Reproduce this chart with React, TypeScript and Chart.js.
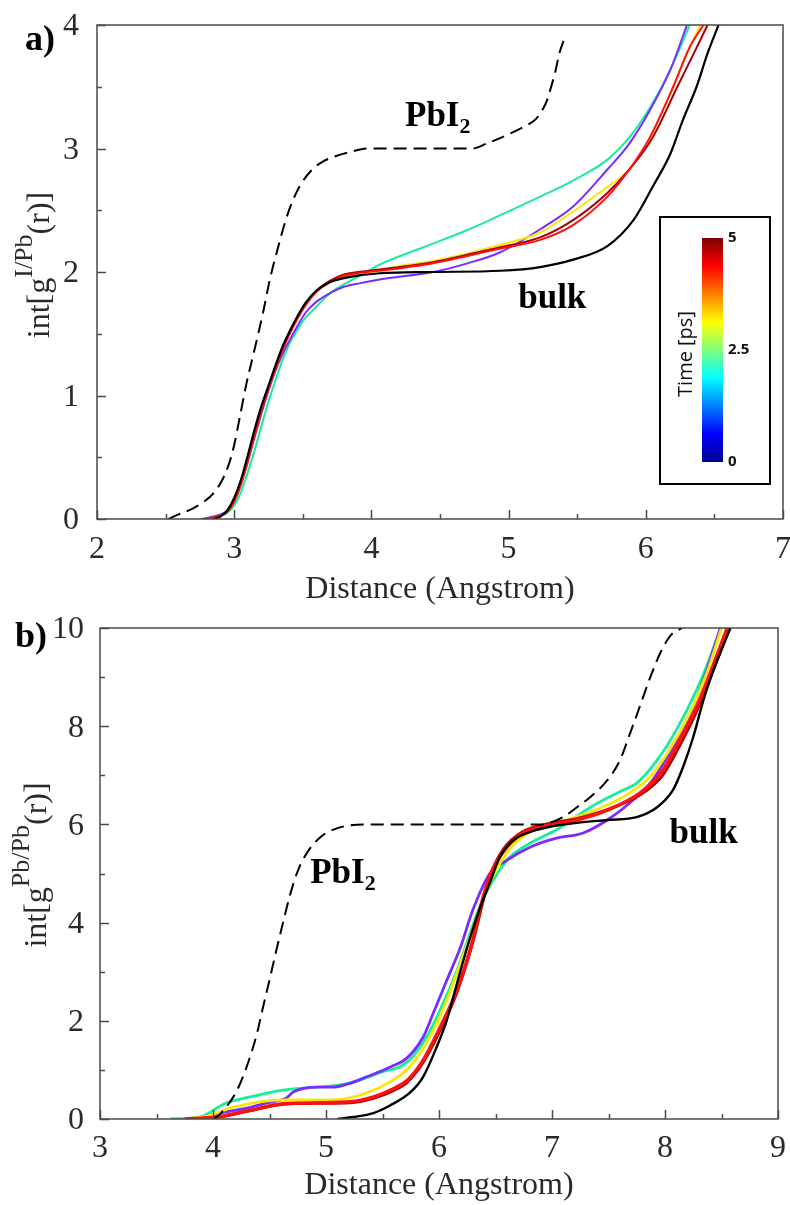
import React, { useEffect, useRef } from 'react';
import { Chart, registerables } from 'chart.js';

Chart.register(...registerables);

// ---------------- Panel a) : int[g I/Pb (r)] ----------------
const aXTicks = [2, 3, 4, 5, 6, 7];
const aYTicks = [0, 1, 2, 3, 4];

const aPbI2X = [2.52, 2.6, 2.69, 2.78, 2.85, 2.91, 2.96, 3.0, 3.04, 3.09, 3.15, 3.21, 3.26, 3.32, 3.37, 3.42, 3.48, 3.56, 3.64, 3.72, 3.84, 3.97, 4.3, 4.74, 4.84, 4.99, 5.1, 5.2, 5.25, 5.28, 5.31, 5.34, 5.37, 5.41];
const aPbI2Y = [0.0, 0.04, 0.08, 0.14, 0.21, 0.31, 0.44, 0.6, 0.82, 1.1, 1.38, 1.67, 1.94, 2.2, 2.4, 2.56, 2.7, 2.82, 2.89, 2.93, 2.97, 3.0, 3.0, 3.0, 3.04, 3.11, 3.17, 3.24, 3.32, 3.39, 3.5, 3.62, 3.77, 3.9];

const aBulkX = [2.85, 2.9, 2.95, 3.0, 3.05, 3.1, 3.15, 3.2, 3.25, 3.3, 3.35, 3.4, 3.46, 3.52, 3.6, 3.7, 3.8, 3.9, 4.06, 4.45, 4.94, 5.23, 5.47, 5.72, 5.91, 6.05, 6.18, 6.27, 6.37, 6.45, 6.53];
const aBulkY = [0.0, 0.02, 0.07, 0.17, 0.32, 0.52, 0.73, 0.92, 1.08, 1.24, 1.39, 1.51, 1.64, 1.75, 1.85, 1.92, 1.95, 1.97, 1.99, 2.0, 2.01, 2.04, 2.1, 2.21, 2.42, 2.69, 2.96, 3.23, 3.5, 3.77, 4.0];

const aRedX = [2.8, 2.88, 2.95, 3.0, 3.05, 3.1, 3.15, 3.2, 3.25, 3.3, 3.35, 3.4, 3.46, 3.52, 3.6, 3.7, 3.8, 3.9, 4.06, 4.21, 4.45, 4.7, 4.94, 5.23, 5.47, 5.72, 5.88, 6.03, 6.2, 6.32, 6.42];
const aRedY = [0.0, 0.02, 0.06, 0.14, 0.28, 0.47, 0.68, 0.88, 1.05, 1.21, 1.36, 1.49, 1.62, 1.73, 1.84, 1.92, 1.97, 1.99, 2.01, 2.03, 2.07, 2.13, 2.19, 2.26, 2.38, 2.61, 2.83, 3.09, 3.5, 3.82, 4.0];

const aDarkRedX = [2.8, 2.88, 2.95, 3.0, 3.05, 3.1, 3.15, 3.2, 3.25, 3.3, 3.35, 3.4, 3.46, 3.52, 3.6, 3.7, 3.8, 3.9, 4.06, 4.21, 4.45, 4.7, 4.94, 5.23, 5.47, 5.72, 5.88, 6.05, 6.23, 6.35, 6.45];
const aDarkRedY = [0.0, 0.02, 0.06, 0.15, 0.29, 0.48, 0.69, 0.89, 1.06, 1.22, 1.37, 1.5, 1.63, 1.74, 1.85, 1.93, 1.98, 2.0, 2.02, 2.04, 2.08, 2.14, 2.2, 2.28, 2.42, 2.64, 2.83, 3.09, 3.5, 3.77, 4.0];

const aYellowX = [2.8, 2.88, 2.95, 3.0, 3.05, 3.1, 3.15, 3.2, 3.25, 3.3, 3.35, 3.4, 3.46, 3.52, 3.6, 3.7, 3.8, 3.9, 4.06, 4.21, 4.45, 4.7, 4.94, 5.23, 5.47, 5.72, 5.88, 6.03, 6.2, 6.3, 6.4];
const aYellowY = [0.0, 0.02, 0.06, 0.15, 0.3, 0.49, 0.7, 0.9, 1.07, 1.23, 1.38, 1.5, 1.63, 1.74, 1.84, 1.92, 1.96, 1.99, 2.01, 2.05, 2.09, 2.15, 2.22, 2.32, 2.49, 2.69, 2.83, 3.09, 3.5, 3.77, 4.0];

const aGreenX = [2.8, 2.88, 2.95, 3.0, 3.05, 3.1, 3.15, 3.2, 3.25, 3.3, 3.35, 3.4, 3.46, 3.52, 3.6, 3.7, 3.8, 3.9, 4.06, 4.38, 4.7, 4.94, 5.23, 5.47, 5.72, 5.88, 6.03, 6.18, 6.32];
const aGreenY = [0.0, 0.02, 0.05, 0.11, 0.22, 0.38, 0.56, 0.76, 0.95, 1.12, 1.28, 1.41, 1.53, 1.63, 1.72, 1.83, 1.9, 1.96, 2.06, 2.2, 2.34, 2.46, 2.61, 2.74, 2.91, 3.09, 3.33, 3.64, 4.0];

const aVioletX = [2.76, 2.85, 2.95, 3.0, 3.05, 3.1, 3.15, 3.2, 3.25, 3.3, 3.35, 3.4, 3.46, 3.52, 3.6, 3.7, 3.8, 3.92, 4.06, 4.45, 4.7, 4.94, 5.25, 5.47, 5.72, 5.88, 6.03, 6.18, 6.3];
const aVioletY = [0.0, 0.02, 0.07, 0.15, 0.29, 0.47, 0.67, 0.86, 1.04, 1.2, 1.33, 1.44, 1.56, 1.67, 1.76, 1.83, 1.88, 1.91, 1.94, 2.0, 2.07, 2.16, 2.36, 2.53, 2.83, 3.04, 3.31, 3.64, 4.0];

// ---------------- Panel b) : int[g Pb/Pb (r)] ----------------
const bXTicks = [3, 4, 5, 6, 7, 8, 9];
const bYTicks = [0, 2, 4, 6, 8, 10];

const bPbI2X = [4.0, 4.05, 4.1, 4.16, 4.22, 4.28, 4.34, 4.39, 4.44, 4.5, 4.56, 4.62, 4.68, 4.75, 4.84, 4.95, 5.06, 5.21, 5.4, 6.0, 6.5, 6.9, 7.0, 7.1, 7.22, 7.34, 7.49, 7.6, 7.69, 7.78, 7.87, 7.96, 8.05, 8.15];
const bPbI2Y = [0.0, 0.07, 0.2, 0.38, 0.62, 0.95, 1.35, 1.75, 2.25, 2.83, 3.43, 4.0, 4.55, 5.05, 5.45, 5.74, 5.89, 5.98, 6.0, 6.0, 6.0, 6.0, 6.05, 6.15, 6.35, 6.56, 6.9, 7.3, 7.85, 8.42, 9.0, 9.5, 9.85, 10.0];

const bBulkX = [5.1, 5.24, 5.42, 5.57, 5.74, 5.86, 5.98, 6.07, 6.16, 6.25, 6.34, 6.45, 6.54, 6.66, 6.81, 6.98, 7.22, 7.49, 7.75, 7.93, 8.07, 8.16, 8.25, 8.34, 8.42, 8.51, 8.58];
const bBulkY = [0.0, 0.04, 0.12, 0.28, 0.53, 0.86, 1.47, 2.02, 2.77, 3.5, 4.15, 4.81, 5.34, 5.68, 5.85, 5.95, 6.03, 6.09, 6.15, 6.35, 6.7, 7.17, 7.78, 8.53, 9.08, 9.61, 10.0];

const bRedX = [3.75, 4.03, 4.33, 4.62, 4.92, 5.21, 5.42, 5.6, 5.72, 5.86, 6.01, 6.16, 6.3, 6.36, 6.45, 6.57, 6.74, 6.98, 7.22, 7.49, 7.78, 7.98, 8.13, 8.28, 8.42, 8.55];
const bRedY = [0.0, 0.04, 0.18, 0.31, 0.33, 0.35, 0.45, 0.62, 0.79, 1.2, 1.87, 2.63, 3.65, 4.25, 4.95, 5.45, 5.82, 5.99, 6.09, 6.29, 6.64, 7.1, 7.72, 8.39, 9.2, 10.0];

const bDarkRedX = [3.8, 4.05, 4.33, 4.62, 4.92, 5.21, 5.42, 5.6, 5.72, 5.86, 6.01, 6.16, 6.3, 6.45, 6.57, 6.74, 6.98, 7.22, 7.49, 7.78, 7.98, 8.13, 8.28, 8.42, 8.57];
const bDarkRedY = [0.0, 0.04, 0.17, 0.3, 0.32, 0.33, 0.42, 0.58, 0.75, 1.15, 1.8, 2.58, 3.6, 4.95, 5.5, 5.85, 6.02, 6.12, 6.3, 6.6, 7.0, 7.6, 8.3, 9.1, 10.0];

const bYellowX = [3.75, 3.95, 4.18, 4.62, 5.06, 5.36, 5.57, 5.74, 5.92, 6.07, 6.21, 6.36, 6.45, 6.6, 6.78, 7.04, 7.34, 7.63, 7.87, 8.04, 8.22, 8.37, 8.5];
const bYellowY = [0.0, 0.06, 0.24, 0.39, 0.39, 0.53, 0.76, 1.06, 1.67, 2.42, 3.3, 4.26, 4.81, 5.42, 5.82, 6.03, 6.25, 6.56, 6.97, 7.52, 8.27, 9.08, 10.0];

const bGreenX = [3.62, 3.88, 4.12, 4.33, 4.62, 4.92, 5.21, 5.5, 5.65, 5.74, 5.89, 6.01, 6.16, 6.3, 6.36, 6.42, 6.48, 6.63, 6.81, 7.04, 7.34, 7.63, 7.75, 7.93, 8.1, 8.28, 8.4, 8.49];
const bGreenY = [0.0, 0.04, 0.33, 0.45, 0.59, 0.65, 0.73, 0.96, 1.06, 1.2, 1.67, 2.22, 3.03, 3.95, 4.32, 4.62, 4.87, 5.34, 5.62, 5.89, 6.35, 6.7, 6.84, 7.31, 7.92, 8.74, 9.41, 10.0];

const bVioletX = [3.86, 4.06, 4.3, 4.48, 4.65, 4.71, 4.92, 5.06, 5.2, 5.36, 5.57, 5.72, 5.86, 5.95, 6.07, 6.19, 6.3, 6.45, 6.6, 6.81, 7.04, 7.27, 7.49, 7.69, 7.87, 8.02, 8.16, 8.31, 8.4, 8.49];
const bVioletY = [0.0, 0.12, 0.22, 0.33, 0.43, 0.55, 0.65, 0.65, 0.72, 0.86, 1.06, 1.25, 1.67, 2.16, 2.83, 3.5, 4.26, 5.0, 5.27, 5.54, 5.72, 5.82, 6.09, 6.44, 6.84, 7.37, 7.92, 8.74, 9.35, 10.0];

// colour bar (jet)
const colorbarStops = [
  [0, '#00008F'],
  [0.125, '#0000FF'],
  [0.375, '#00FFFF'],
  [0.625, '#FFFF00'],
  [0.875, '#FF0000'],
  [1, '#800000'],
] as [number, string][];
const colorbarLabels = ['0', '2.5', '5'];

const C_VIOLET = '#7A2BFF';
const C_GREEN = '#16EE9A';
const C_YELLOW = '#F8E800';
const C_RED = '#FF1010';
const C_DARKRED = '#A80000';
const C_BLACK = '#000000';

type Series = { x: number[]; y: number[]; color: string; width: number; dash?: number[] };

type Note = { text: string; sub?: string; x: number; y: number };

type Spec = {
  id: string;
  top: number;
  height: number;
  plotLeft: number;
  plotRight: number;
  plotTop: number;
  plotBottom: number;
  xTicks: number[];
  yTicks: number[];
  xMinor: number;
  yMinor: number;
  yTickPad: number;
  xTickPad: number;
  series: Series[];
  panelLabel: string;
  panelLabelX: number;
  panelLabelY: number;
  ySup: string;
  yTitleCenter: number;
  yTitleBase: number;
  yTitleSupBase: number;
  xTitleBase: number;
  notes: Note[];
  colorbar: boolean;
};

const SERIF = '"Liberation Serif", "Times New Roman", serif';
const SANS = '"Open Sans", "Noto Sans", sans-serif';

const specA: Spec = {
  id: 'a',
  top: 0,
  height: 605,
  plotLeft: 97,
  plotRight: 783,
  plotTop: 25,
  plotBottom: 519,
  xTicks: aXTicks,
  yTicks: aYTicks,
  xMinor: 0.5,
  yMinor: 0.5,
  yTickPad: 10,
  xTickPad: 3,
  series: [
    { x: aBulkX, y: aBulkY, color: C_BLACK, width: 2.2 },
    { x: aPbI2X, y: aPbI2Y, color: C_BLACK, width: 2, dash: [13, 7] },
    { x: aRedX, y: aRedY, color: C_RED, width: 2 },
    { x: aDarkRedX, y: aDarkRedY, color: C_DARKRED, width: 2 },
    { x: aYellowX, y: aYellowY, color: C_YELLOW, width: 2 },
    { x: aVioletX, y: aVioletY, color: C_VIOLET, width: 2 },
    { x: aGreenX, y: aGreenY, color: C_GREEN, width: 2 },
  ],
  panelLabel: 'a)',
  panelLabelX: 25,
  panelLabelY: 50,
  ySup: 'I/Pb',
  yTitleCenter: 265,
  yTitleBase: 49,
  yTitleSupBase: 32,
  xTitleBase: 598,
  notes: [
    { text: 'PbI', sub: '2', x: 4.245, y: 3.18 },
    { text: 'bulk', x: 5.07, y: 1.71 },
  ],
  colorbar: true,
};

const specB: Spec = {
  id: 'b',
  top: 605,
  height: 600,
  plotLeft: 100,
  plotRight: 778,
  plotTop: 23,
  plotBottom: 514,
  xTicks: bXTicks,
  yTicks: bYTicks,
  xMinor: 0.5,
  yMinor: 1,
  yTickPad: 8,
  xTickPad: 2,
  series: [
    { x: bBulkX, y: bBulkY, color: C_BLACK, width: 2.4 },
    { x: bPbI2X, y: bPbI2Y, color: C_BLACK, width: 2, dash: [13, 7] },
    { x: bRedX, y: bRedY, color: C_RED, width: 3.5 },
    { x: bDarkRedX, y: bDarkRedY, color: C_DARKRED, width: 2.8 },
    { x: bYellowX, y: bYellowY, color: C_YELLOW, width: 2.8 },
    { x: bVioletX, y: bVioletY, color: C_VIOLET, width: 2.8 },
    { x: bGreenX, y: bGreenY, color: C_GREEN, width: 2.8 },
  ],
  panelLabel: 'b)',
  panelLabelX: 15,
  panelLabelY: 42,
  ySup: 'Pb/Pb',
  yTitleCenter: 260,
  yTitleBase: 46,
  yTitleSupBase: 29,
  xTitleBase: 589,
  notes: [
    { text: 'PbI', sub: '2', x: 4.86, y: 4.81 },
    { text: 'bulk', x: 8.04, y: 5.62 },
  ],
  colorbar: false,
};

function makeDecor(spec: Spec) {
  return {
    id: 'decor_' + spec.id,
    afterDatasetsDraw(chart: any) {
      const ctx: CanvasRenderingContext2D = chart.ctx;
      const ca = chart.chartArea;
      const xs = chart.scales.x;
      const ys = chart.scales.y;
      ctx.save();

      // frame
      ctx.strokeStyle = '#4a4a4a';
      ctx.lineWidth = 1.5;
      ctx.setLineDash([]);
      ctx.strokeRect(ca.left, ca.top, ca.right - ca.left, ca.bottom - ca.top);

      // inward ticks (major + minor) on bottom and left
      const xMin = spec.xTicks[0];
      const xMax = spec.xTicks[spec.xTicks.length - 1];
      const xStep = spec.xTicks[1] - spec.xTicks[0];
      const nx = Math.round((xMax - xMin) / spec.xMinor);
      for (let i = 0; i <= nx; i++) {
        const v = xMin + i * spec.xMinor;
        const major = Math.abs((v - xMin) / xStep - Math.round((v - xMin) / xStep)) < 1e-6;
        const px = Math.round(xs.getPixelForValue(v)) + 0.5;
        ctx.beginPath();
        ctx.moveTo(px, ca.bottom);
        ctx.lineTo(px, ca.bottom - (major ? 9 : 5));
        ctx.stroke();
      }
      const yMin = spec.yTicks[0];
      const yMax = spec.yTicks[spec.yTicks.length - 1];
      const yStep = spec.yTicks[1] - spec.yTicks[0];
      const ny = Math.round((yMax - yMin) / spec.yMinor);
      for (let i = 0; i <= ny; i++) {
        const v = yMin + i * spec.yMinor;
        const major = Math.abs((v - yMin) / yStep - Math.round((v - yMin) / yStep)) < 1e-6;
        const py = Math.round(ys.getPixelForValue(v)) + 0.5;
        ctx.beginPath();
        ctx.moveTo(ca.left, py);
        ctx.lineTo(ca.left + (major ? 9 : 5), py);
        ctx.stroke();
      }

      // x-axis title
      ctx.fillStyle = '#2a2a2a';
      ctx.font = `32px ${SERIF}`;
      ctx.textAlign = 'center';
      ctx.textBaseline = 'alphabetic';
      ctx.fillText('Distance (Angstrom)', (ca.left + ca.right) / 2, spec.xTitleBase);

      // y-axis title with superscript
      const mainFont = `32px ${SERIF}`;
      const supFont = `26px ${SERIF}`;
      ctx.font = mainFont;
      const w1 = ctx.measureText('int[g').width;
      const w3 = ctx.measureText('(r)]').width;
      ctx.font = supFont;
      const w2 = ctx.measureText(spec.ySup).width;
      const total = w1 + w2 + w3;
      ctx.save();
      ctx.translate(spec.yTitleBase, spec.yTitleCenter);
      ctx.rotate(-Math.PI / 2);
      ctx.textAlign = 'left';
      let cx = -total / 2;
      ctx.font = mainFont;
      ctx.fillText('int[g', cx, 0);
      cx += w1;
      ctx.font = supFont;
      ctx.fillText(spec.ySup, cx, -(spec.yTitleBase - spec.yTitleSupBase));
      cx += w2;
      ctx.font = mainFont;
      ctx.fillText('(r)]', cx, 0);
      ctx.restore();

      // panel label
      ctx.fillStyle = '#000';
      ctx.font = `bold 36px ${SERIF}`;
      ctx.textAlign = 'left';
      ctx.fillText(spec.panelLabel, spec.panelLabelX, spec.panelLabelY);

      // inline notes
      for (const n of spec.notes) {
        const px = xs.getPixelForValue(n.x);
        const py = ys.getPixelForValue(n.y);
        ctx.font = `bold 35px ${SERIF}`;
        ctx.fillText(n.text, px, py);
        if (n.sub) {
          const w = ctx.measureText(n.text).width;
          ctx.font = `bold 22px ${SERIF}`;
          ctx.fillText(n.sub, px + w, py + 7);
        }
      }

      // colour bar legend
      if (spec.colorbar) {
        const bx = 660, by = 217, bw = 110, bh = 267;
        ctx.fillStyle = '#fff';
        ctx.fillRect(bx, by, bw, bh);
        ctx.strokeStyle = '#000';
        ctx.lineWidth = 2;
        ctx.strokeRect(bx, by, bw, bh);
        const gx = 702, gy = 238, gw = 21, gh = 224;
        const grad = ctx.createLinearGradient(0, gy + gh, 0, gy);
        for (const [p, c] of colorbarStops) grad.addColorStop(p, c);
        ctx.fillStyle = grad;
        ctx.fillRect(gx, gy, gw, gh);
        ctx.fillStyle = '#111';
        ctx.font = `bold 15px ${SANS}`;
        ctx.textAlign = 'left';
        ctx.textBaseline = 'middle';
        colorbarLabels.forEach((t, i) => {
          const yy = gy + gh - (i / (colorbarLabels.length - 1)) * gh;
          ctx.fillText(t, 728, yy);
        });
        ctx.save();
        ctx.translate(686, 354);
        ctx.rotate(-Math.PI / 2);
        ctx.font = `20px ${SANS}`;
        ctx.textAlign = 'center';
        ctx.textBaseline = 'middle';
        ctx.fillStyle = '#111';
        ctx.fillText('Time [ps]', 0, 0);
        ctx.restore();
      }

      ctx.restore();
    },
  };
}

function Panel({ spec }: { spec: Spec }) {
  const ref = useRef<HTMLCanvasElement | null>(null);
  useEffect(() => {
    if (!ref.current) return;
    const datasets = spec.series.map((s) => ({
      data: s.x.map((v, i) => ({ x: v, y: s.y[i] })),
      borderColor: s.color,
      borderWidth: s.width,
      borderDash: s.dash || [],
      pointRadius: 0,
      fill: false,
      cubicInterpolationMode: 'monotone' as const,
      borderCapStyle: 'butt' as const,
    }));
    const chart = new Chart(ref.current, {
      type: 'line',
      data: { datasets },
      plugins: [makeDecor(spec)],
      options: {
        animation: false,
        responsive: false,
        devicePixelRatio: 1,
        events: [],
        layout: {
          padding: { left: 0, right: 790 - spec.plotRight, top: spec.plotTop, bottom: 0 },
        },
        plugins: { legend: { display: false }, tooltip: { enabled: false } },
        scales: {
          x: {
            type: 'linear',
            min: spec.xTicks[0],
            max: spec.xTicks[spec.xTicks.length - 1],
            afterBuildTicks: (scale: any) => {
              scale.ticks = spec.xTicks.map((v) => ({ value: v }));
            },
            ticks: {
              font: { family: SERIF, size: 32 },
              color: '#2a2a2a',
              padding: spec.xTickPad,
              maxRotation: 0,
              autoSkip: false,
            },
            grid: { display: false },
            border: { display: false },
            afterFit: (scale: any) => {
              scale.height = spec.height - spec.plotBottom;
              scale.paddingLeft = 0;
              scale.paddingRight = 0;
            },
          },
          y: {
            type: 'linear',
            min: spec.yTicks[0],
            max: spec.yTicks[spec.yTicks.length - 1],
            afterBuildTicks: (scale: any) => {
              scale.ticks = spec.yTicks.map((v) => ({ value: v }));
            },
            ticks: {
              font: { family: SERIF, size: 32 },
              color: '#2a2a2a',
              padding: spec.yTickPad,
              labelOffset: 2,
              autoSkip: false,
            },
            grid: { display: false },
            border: { display: false },
            afterFit: (scale: any) => {
              scale.width = spec.plotLeft;
              scale.paddingTop = 0;
              scale.paddingBottom = 0;
            },
          },
        },
      } as any,
    });
    return () => chart.destroy();
  }, [spec]);
  return (
    <canvas
      ref={ref}
      width={790}
      height={spec.height}
      style={{ position: 'absolute', left: 0, top: spec.top, width: 790, height: spec.height }}
    />
  );
}

export default function App() {
  return (
    <div style={{ position: 'absolute', left: 0, top: 0, width: 790, height: 1205, background: '#fff', overflow: 'hidden' }}>
      <Panel spec={specA} />
      <Panel spec={specB} />
    </div>
  );
}
